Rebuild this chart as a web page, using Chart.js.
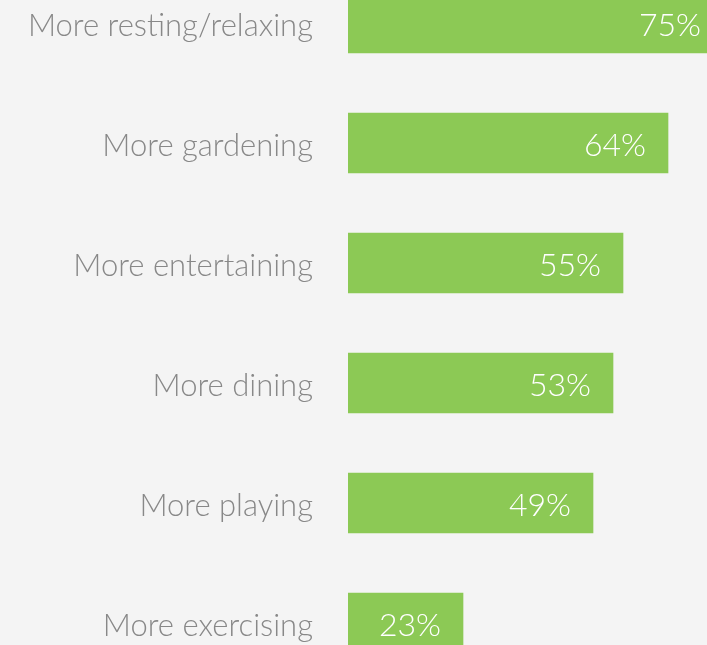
<!DOCTYPE html>
<html>
<head>
<meta charset="utf-8">
<script src="https://cdn.jsdelivr.net/npm/chart.js@4"></script>
<style>
    html, body {
        margin: 0;
        padding: 0;
        background: #f4f4f4;
        width: 707px;
        height: 645px;
        overflow: hidden;
    }
    #wrap {
        position: absolute;
        left: 0;
        top: -37px;
        width: 748px;
        height: 720px;
    }
</style>
</head>
<body>
<div id="wrap"><canvas id="activityChart"></canvas></div>

<script>
// ======================================================
// Activity Bars
// ======================================================

const activities = [
    "More resting/relaxing",
    "More gardening",
    "More entertaining",
    "More dining",
    "More playing",
    "More exercising"
];

const shares = [75, 64, 55, 53, 49, 23];

const barGreen = "#8cc955";
const labelGray = "#888888";
const fontFamily = "Lato, 'Open Sans', sans-serif";

// white percent label tucked inside the end of each bar
const valueLabels = {

    id: "valueLabels",

    afterDatasetsDraw(chart) {

        const ctx = chart.ctx;
        const meta = chart.getDatasetMeta(0);

        ctx.save();
        ctx.font = "300 32px " + fontFamily;
        ctx.fillStyle = "#ffffff";
        ctx.textAlign = "right";
        ctx.textBaseline = "alphabetic";

        meta.data.forEach((bar, i) => {
            ctx.fillText(shares[i] + "%", bar.x - 22, bar.y + 13);
        });

        ctx.restore();

    }

};

document.addEventListener("DOMContentLoaded", function () {

    let ctx = document.getElementById("activityChart");

    new Chart(ctx, {

        type: "bar",

        data: {

            labels: activities,

            datasets: [{
                data: shares,
                backgroundColor: barGreen,
                borderWidth: 0,
                barThickness: 60
            }]

        },

        options: {

            indexAxis: "y",
            responsive: true,
            maintainAspectRatio: false,
            animation: false,

            layout: { padding: 0 },

            plugins: {
                legend: { display: false },
                tooltip: { enabled: false }
            },

            scales: {

                x: {
                    display: false,
                    min: 0,
                    max: 80
                },

                y: {
                    border: { display: false },
                    grid: { display: false, drawTicks: false },
                    ticks: {
                        color: labelGray,
                        padding: 35,
                        labelOffset: 3,
                        font: { family: fontFamily, size: 31, weight: "300" }
                    },
                    afterFit(scale) {
                        // fixed label column, no extra space above/below the bars
                        scale.width = 348;
                        scale.paddingTop = 0;
                        scale.paddingBottom = 0;
                    }
                }

            }

        },

        plugins: [valueLabels]

    });

});
</script>
</body>
</html>
